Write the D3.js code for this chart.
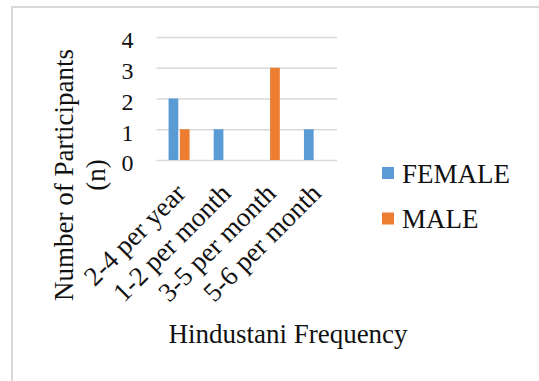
<!DOCTYPE html>
<html>
<head>
<meta charset="utf-8">
<script src="https://cdn.jsdelivr.net/npm/d3@7"></script>
<style>
  body { margin: 0; background: #fff; }
  text { font-family: "Liberation Serif", "Times New Roman", serif; fill: #111; }
</style>
</head>
<body>
<svg id="chart" width="539" height="381"></svg>
<script>
const categories = ["2-4 per year", "1-2 per month", "3-5 per month", "5-6 per month"];
const seriesNames = ["FEMALE", "MALE"];
const female = [2, 1, 0, 1];
const male = [1, 0, 3, 0];
const yTicks = [0, 1, 2, 3, 4];
const seriesColors = ["#5b9bd5", "#ed7d31"];

const serif = "Liberation Serif, Times New Roman, serif";

const svg = d3.select("#chart");
const width = +svg.attr("width");
const height = +svg.attr("height");

// outer frame (only top/left visible in the crop)
svg.append("rect")
    .attr("x", 12).attr("y", 7)
    .attr("width", width + 20).attr("height", height + 20)
    .attr("fill", "#fff")
    .attr("stroke", "#d9d9d9")
    .attr("stroke-width", 2);

const plot = { left: 156.5, right: 337, top: 37, bottom: 160 };

const x0 = d3.scaleBand().domain(categories).range([plot.left, plot.right]).padding(0);
const groupW = 21;
const x1 = d3.scaleBand().domain(seriesNames).range([0, groupW]).paddingInner(0.14);
const y = d3.scaleLinear().domain([0, 4]).range([plot.bottom, plot.top]);

// gridlines + y tick labels
const yAxis = svg.append("g")
    .attr("transform", `translate(${plot.left},0)`)
    .call(d3.axisLeft(y).tickValues(yTicks).tickFormat(d3.format("d"))
        .tickSizeInner(-(plot.right - plot.left)).tickSizeOuter(0).tickPadding(23))
    .attr("font-family", serif)
    .attr("font-size", 24);
yAxis.select(".domain").remove();
yAxis.selectAll(".tick line").attr("stroke", "#d9d9d9").attr("stroke-width", 1.3);
yAxis.selectAll(".tick text")
    .attr("dy", "0.45em")
    .attr("font-family", serif)
    .attr("font-size", 24)
    .attr("fill", "#111");

// bars
const rows = categories.map((c, i) => ({ cat: c, values: [female[i], male[i]] }));
const groups = svg.append("g").selectAll("g")
    .data(rows)
    .join("g")
    .attr("transform", d => `translate(${x0(d.cat) + (x0.bandwidth() - groupW) / 2},0)`);

groups.selectAll("rect")
    .data(d => d.values.map((v, j) => ({ name: seriesNames[j], value: v, color: seriesColors[j] })))
    .join("rect")
    .attr("x", d => x1(d.name))
    .attr("width", x1.bandwidth())
    .attr("y", d => y(d.value))
    .attr("height", d => y(0) - y(d.value))
    .attr("fill", d => d.color);

// category labels, rotated
svg.append("g").selectAll("text")
    .data(categories)
    .join("text")
    .attr("transform", d => `translate(${x0(d) + x0.bandwidth() / 2 + 8},195) rotate(-45)`)
    .attr("text-anchor", "end")
    .style("font-size", "27px")
    .text(d => d);

// axis titles
svg.append("text")
    .attr("x", 288).attr("y", 343)
    .attr("text-anchor", "middle")
    .style("font-size", "27px")
    .text("Hindustani Frequency");

const yTitle = ["Number of Participants", "(n)"];
svg.append("g").selectAll("text")
    .data(yTitle)
    .join("text")
    .attr("transform", (d, i) => `translate(${73 + i * 32},175) rotate(-90)`)
    .attr("text-anchor", "middle")
    .style("font-size", "27px")
    .text(d => d);

// legend
const legend = svg.append("g").selectAll("g")
    .data(seriesNames)
    .join("g")
    .attr("transform", (d, i) => `translate(382,${167 + i * 45.5})`);
legend.append("rect")
    .attr("width", 12).attr("height", 12)
    .attr("fill", (d, i) => seriesColors[i]);
legend.append("text")
    .attr("x", 20).attr("y", 15.5)
    .style("font-size", "27px")
    .text(d => d);
</script>
</body>
</html>
